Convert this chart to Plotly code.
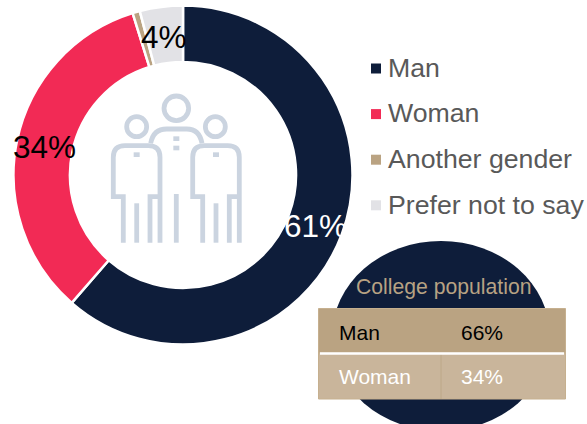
import plotly.graph_objects as go

categories = ["Man", "Woman", "Another gender", "Prefer not to say"]
shares = [61.4, 33.8, 0.7, 4.1]
colors = ["#0E1D3A", "#F22A55", "#BAA382", "#E2E2E6"]
pop_title = "College population"
pop_rows = ["Man", "Woman"]
pop_vals = [66, 34]

W, H = 587, 424
CX, CY, R = 183, 175, 169.5

fig = go.Figure(go.Pie(
    labels=categories, values=shares, sort=False, direction="clockwise", rotation=0,
    hole=0.667, textinfo="none", hoverinfo="label+percent", showlegend=False,
    marker=dict(colors=colors, line=dict(color="white", width=2.5)),
    domain=dict(x=[(CX - R) / W, (CX + R) / W], y=[1 - (CY + R) / H, 1 - (CY - R) / H]),
))

shapes, ann = [], []
FONT = "Liberation Sans, Arial, sans-serif"

def text(x, y, s, size, color, anchor="left"):
    ann.append(dict(x=x, y=y, xref="x", yref="y", text=s, showarrow=False, xanchor=anchor, yanchor="middle",
                    font=dict(family=FONT, size=size, color=color)))

def rect(x0, y0, x1, y1, fill, line=None, lw=0):
    shapes.append(dict(type="rect", x0=x0, y0=y0, x1=x1, y1=y1, fillcolor=fill, xref="x", yref="y",
                       line=dict(color=line or fill, width=lw), layer="above"))

# percent labels
label_pos = {0: (315, 226, "white"), 1: (44, 147, "black"), 3: (163.5, 37, "black")}
for i, (x, y, c) in label_pos.items():
    text(x, y, f"{round(shares[i])}%", 31.5, c, "center")

# legend
for i, cat in enumerate(categories):
    y = 68.5 + 45.6 * i
    rect(371, y - 5, 381, y + 5, colors[i])
    text(386, y - 0.7, cat, 26.7, "#595959")

# icon (drawn in a local frame)
ICON = "#CBD4E0"
def ix(v): return 100 + v / 3
def iy(v): return 80 + v / 3
def stroke(points):
    parts = []
    for cmd, *pts in points:
        parts.append(cmd + " ".join(f"{ix(pts[k]):.1f},{iy(pts[k+1]):.1f}" for k in range(0, len(pts), 2)))
    shapes.append(dict(type="path", path=" ".join(parts), xref="x", yref="y", layer="above",
                       line=dict(color=ICON, width=4.8)))
def head(cx, cy, r):
    shapes.append(dict(type="circle", x0=ix(cx - r), x1=ix(cx + r), y0=iy(cy - r), y1=iy(cy + r), xref="x", yref="y",
                       line=dict(color=ICON, width=4.8), layer="above"))
def dot(cx, cy):
    rect(ix(cx - 9), iy(cy - 7), ix(cx + 9), iy(cy + 7), ICON)

head(229, 85, 37); head(110, 140, 30); head(346, 140, 30)
for dx in (0, 238):
    stroke([("M", 70 + dx, 488), ("L", 70 + dx, 350), ("L", 40 + dx, 350), ("L", 40 + dx, 232),
            ("Q", 40 + dx, 197, 75 + dx, 197), ("L", 145 + dx, 197), ("Q", 180 + dx, 197, 180 + dx, 232),
            ("L", 180 + dx, 488)])
    stroke([("M", 150 + dx, 488), ("L", 150 + dx, 350), ("L", 180 + dx, 350)])
    stroke([("M", 110 + dx, 370), ("L", 110 + dx, 488)])
    dot(110 + dx, 224)
stroke([("M", 152, 190), ("Q", 160, 147, 200, 147), ("L", 260, 147), ("Q", 298, 147, 306, 190)])
stroke([("M", 229, 342), ("L", 229, 488)])
dot(229, 176); dot(229, 204)

# college population panel
shapes.append(dict(type="circle", x0=441 - 109, x1=441 + 109, y0=241, y1=431, xref="x", yref="y",
                   fillcolor=colors[0], line=dict(width=0), layer="above"))
text(443.5, 287, pop_title, 21.2, "#B7A283", "center")
rect(318.5, 308.5, 565.5, 353, "#BAA382", "#C6B08F", 1)
rect(318.5, 353, 565.5, 399, "#C9B59B", "#C6B08F", 1)
shapes.append(dict(type="line", x0=441, x1=441, y0=354, y1=399, xref="x", yref="y",
                   line=dict(color="#BDA888", width=1), layer="above"))
shapes.append(dict(type="line", x0=320, x1=564, y0=353.5, y1=353.5, xref="x", yref="y",
                   line=dict(color="white", width=2.5), layer="above"))
for i, (r, v) in enumerate(zip(pop_rows, pop_vals)):
    c = "black" if i == 0 else "white"
    y = 332 + 44 * i
    text(337, y, r, 21, c)
    text(459, y, f"{v}%", 21, c)

fig.update_layout(
    width=W, height=H, margin=dict(l=0, r=0, t=0, b=0), autosize=False,
    paper_bgcolor="white", plot_bgcolor="rgba(0,0,0,0)",
    xaxis=dict(range=[0, W], visible=False, fixedrange=True, domain=[0, 1]),
    yaxis=dict(range=[H, 0], visible=False, fixedrange=True, domain=[0, 1]),
    shapes=shapes, annotations=ann,
)
fig.write_html("out.html", post_script="document.body.style.margin='0';document.documentElement.style.overflow='hidden';",
               config={"displayModeBar": False})
